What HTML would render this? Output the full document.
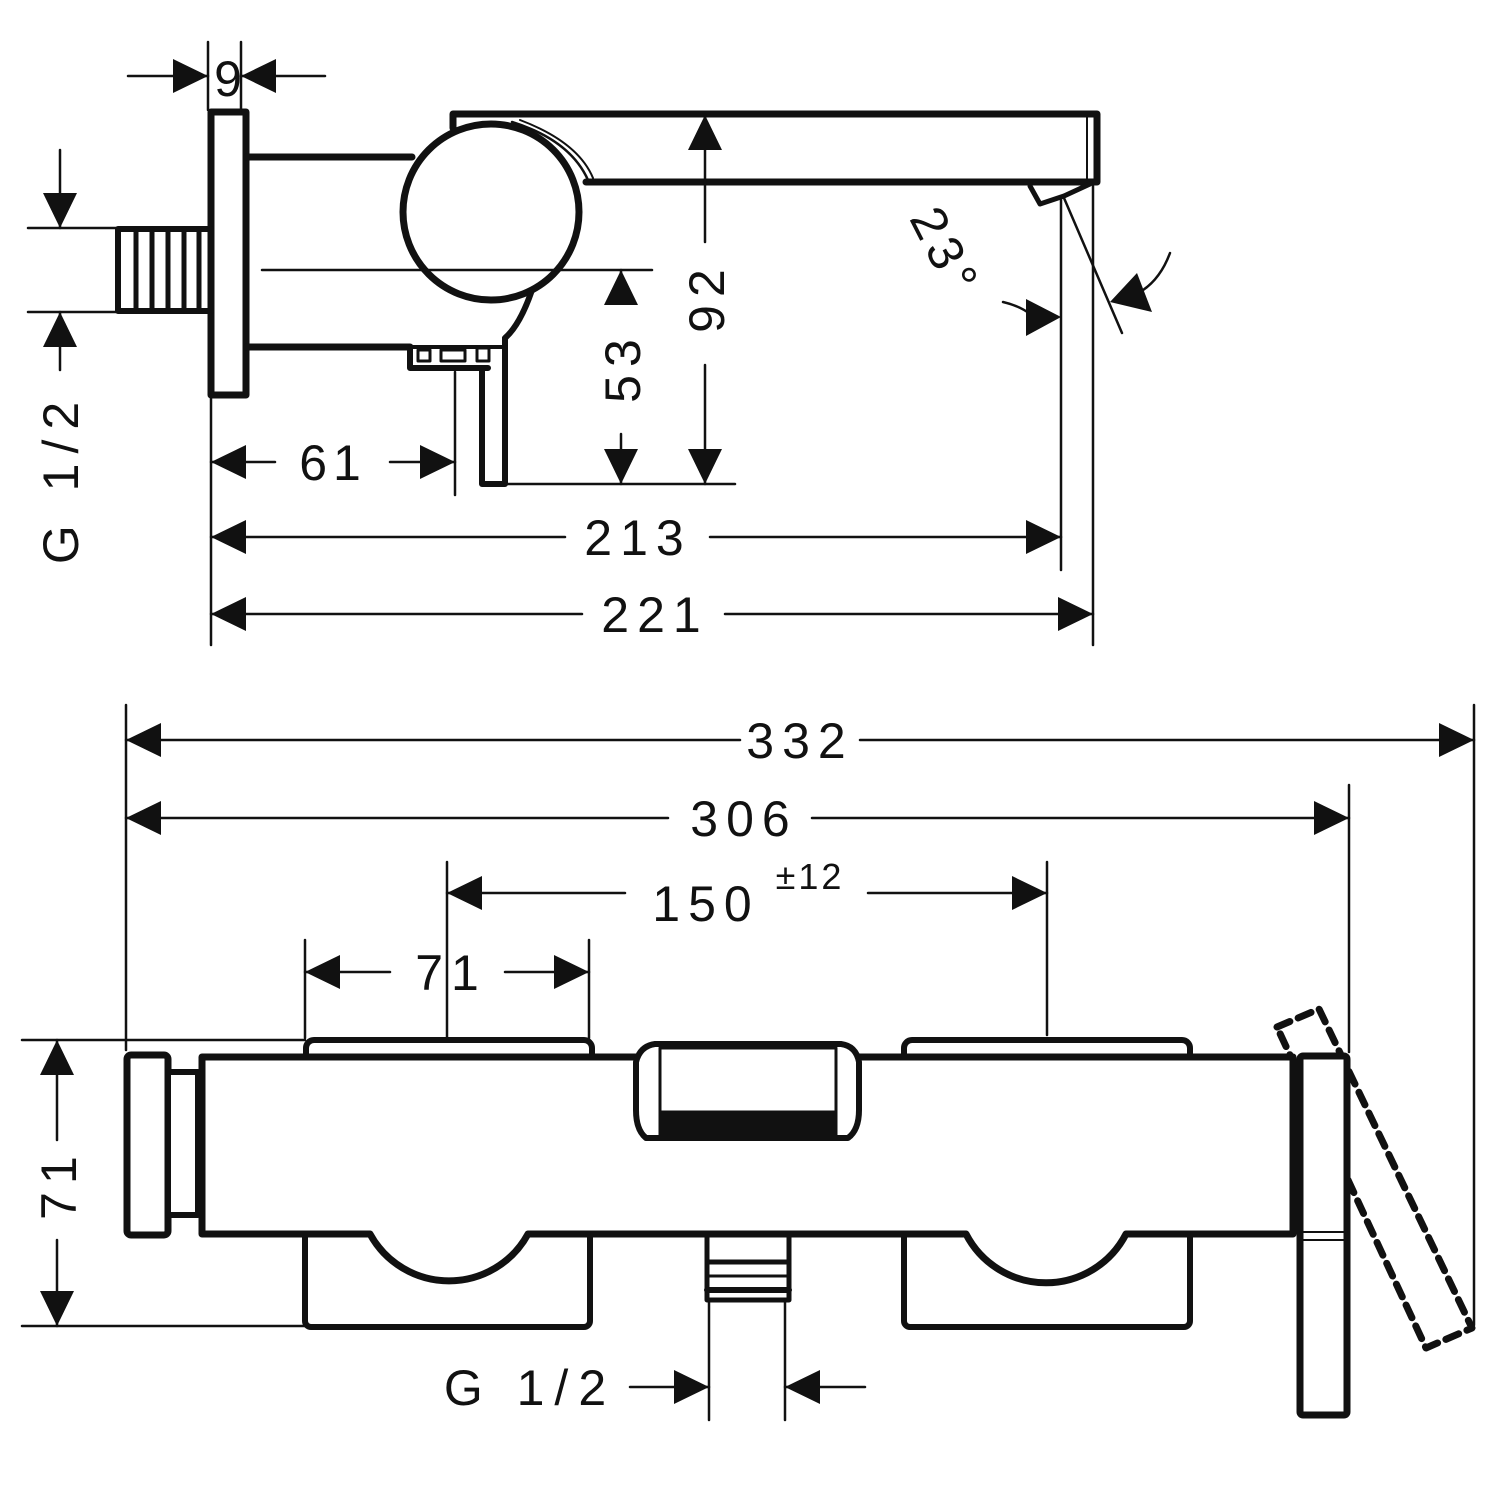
<!DOCTYPE html>
<html><head><meta charset="utf-8"><style>
html,body{margin:0;padding:0;background:#fff}
svg{display:block}
text{font-family:"Liberation Sans",sans-serif;fill:#111}
</style></head><body>
<svg width="1500" height="1500" viewBox="0 0 1500 1500" xmlns="http://www.w3.org/2000/svg">
<g fill="none" stroke="#111" stroke-linejoin="round" stroke-linecap="round">
<!-- ===== TOP VIEW ===== -->
<rect x="211" y="112" width="35" height="283" stroke-width="7" fill="#fff"/>
<rect x="118" y="229" width="93" height="82" stroke-width="6"/>
<g stroke-width="5"><line x1="136" y1="229" x2="136" y2="311"/><line x1="152" y1="229" x2="152" y2="311"/><line x1="168" y1="229" x2="168" y2="311"/><line x1="184" y1="229" x2="184" y2="311"/><line x1="199" y1="229" x2="199" y2="311"/></g>
<line x1="247" y1="157" x2="412" y2="157" stroke-width="7"/>
<line x1="247" y1="347" x2="410" y2="347" stroke-width="7"/>
<path d="M453,128 L453,114 L1097,114 L1097,182 L586,182" stroke-width="7"/>
<line x1="1087" y1="116" x2="1087" y2="180" stroke-width="2"/>
<path d="M512,122 Q570,140 588,180" stroke-width="2.5"/>
<path d="M520,120 Q578,142 593,178" stroke-width="2"/>
<path d="M1030,186 L1040,204 L1064,196 L1090,184" stroke-width="5"/>
<circle cx="491" cy="212" r="88" stroke-width="7" fill="#fff"/>
<path d="M532,290 Q520,325 505,338 L505,484 L482,484 L482,368" stroke-width="6"/>
<path d="M410,347 L410,368 L488,368" stroke-width="6"/>
<path d="M410,347 L505,347" stroke-width="4"/>
<rect x="418" y="350" width="12" height="11" stroke-width="3"/>
<rect x="441" y="350" width="24" height="11" stroke-width="3"/>
<rect x="477" y="348" width="12" height="13" stroke-width="3"/>
<g stroke-width="2.5">
<line x1="262" y1="270" x2="652" y2="270"/>
<line x1="505" y1="484" x2="735" y2="484"/>
<line x1="455" y1="372" x2="455" y2="495"/>
<line x1="211" y1="398" x2="211" y2="645"/>
<line x1="1061" y1="200" x2="1061" y2="570"/>
<line x1="1093" y1="186" x2="1093" y2="645"/>
<line x1="1064" y1="198" x2="1122" y2="333"/>
<line x1="208" y1="42" x2="208" y2="110"/>
<line x1="241" y1="42" x2="241" y2="110"/>
<line x1="28" y1="228" x2="116" y2="228"/>
<line x1="28" y1="312" x2="116" y2="312"/>
<line x1="128" y1="76" x2="208" y2="76"/><line x1="241" y1="76" x2="325" y2="76"/>
<line x1="60" y1="150" x2="60" y2="228"/><line x1="60" y1="312" x2="60" y2="370"/>
<line x1="621" y1="270" x2="621" y2="300"/><line x1="621" y1="434" x2="621" y2="484"/>
<line x1="705" y1="115" x2="705" y2="242"/><line x1="705" y1="365" x2="705" y2="484"/>
<line x1="211" y1="462" x2="275" y2="462"/><line x1="390" y1="462" x2="455" y2="462"/>
<line x1="211" y1="537" x2="565" y2="537"/><line x1="710" y1="537" x2="1061" y2="537"/>
<line x1="211" y1="614" x2="582" y2="614"/><line x1="725" y1="614" x2="1093" y2="614"/>
<path d="M1003,302 Q1020,306 1030,314"/>
<path d="M1170,253 Q1160,280 1140,292"/>
</g>
</g>
<g fill="#111">
<polygon points="208,76 173,59 173,93"/><polygon points="241,76 276,59 276,93"/>
<polygon points="60,228 43,193 77,193"/><polygon points="60,312 43,347 77,347"/>
<polygon points="621,270 604,305 638,305"/><polygon points="621,484 604,449 638,449"/>
<polygon points="705,115 688,150 722,150"/><polygon points="705,484 688,449 722,449"/>
<polygon points="211,462 246,445 246,479"/><polygon points="455,462 420,445 420,479"/>
<polygon points="211,537 246,520 246,554"/><polygon points="1061,537 1026,520 1026,554"/>
<polygon points="211,614 246,597 246,631"/><polygon points="1093,614 1058,597 1058,631"/>
<polygon points="1061,317 1026,299 1026,336"/>
<polygon points="1110,302 1137,273 1152,312"/>
</g>
<g font-size="50">
<text x="228" y="96" text-anchor="middle">9</text>
<text x="333" y="480" text-anchor="middle" letter-spacing="6">61</text>
<text x="638" y="555" text-anchor="middle" letter-spacing="8">213</text>
<text x="655" y="632" text-anchor="middle" letter-spacing="8">221</text>
<text transform="translate(640,367) rotate(-90)" text-anchor="middle" letter-spacing="8">53</text>
<text transform="translate(724,297) rotate(-90)" text-anchor="middle" letter-spacing="8">92</text>
<text transform="translate(78,478) rotate(-90)" text-anchor="middle" letter-spacing="10">G 1/2</text>
<text transform="translate(930,260) rotate(63)" text-anchor="middle" letter-spacing="6">23°</text>
</g>

<!-- ===== BOTTOM VIEW ===== -->
<g fill="none" stroke="#111" stroke-linejoin="round" stroke-linecap="round">
<polygon points="1277,1027 1319,1009 1472,1328 1426,1348" stroke-width="7" stroke-dasharray="14,9"/>
<rect x="306" y="1040" width="286" height="24" rx="8" stroke-width="6" fill="#fff"/>
<rect x="904" y="1040" width="286" height="24" rx="8" stroke-width="6" fill="#fff"/>
<rect x="305" y="1215" width="285" height="112" rx="6" stroke-width="6" fill="#fff"/>
<rect x="904" y="1215" width="286" height="112" rx="6" stroke-width="6" fill="#fff"/>
<rect x="707" y="1225" width="82" height="75" stroke-width="5" fill="#fff"/>
<line x1="707" y1="1262" x2="789" y2="1262" stroke-width="5"/>
<line x1="707" y1="1276" x2="789" y2="1276" stroke-width="3"/>
<line x1="707" y1="1290" x2="789" y2="1290" stroke-width="6"/>
<path d="M202,1057 L1293,1057 L1293,1234 L1126,1234 A90,90 0 0 1 966,1234 L528,1234 A90,90 0 0 1 370,1234 L202,1234 Z" stroke-width="7" fill="#fff"/>
<rect x="127" y="1055" width="41" height="180" rx="4" stroke-width="7" fill="#fff"/>
<rect x="168" y="1072" width="30" height="143" stroke-width="6" fill="#fff"/>
<path d="M646,1138 Q636,1130 636,1110 L636,1062 Q640,1046 655,1044 L841,1044 Q856,1046 859,1062 L859,1110 Q859,1130 848,1138 Z" stroke-width="6" fill="#fff"/>
<rect x="660" y="1048" width="176" height="90" stroke-width="3"/>
<rect x="660" y="1112" width="176" height="24" fill="#111" stroke-width="3"/>
<rect x="1300" y="1056" width="47" height="359" rx="3" stroke-width="7" fill="#fff"/>
<line x1="1300" y1="1232" x2="1347" y2="1232" stroke-width="2"/>
<line x1="1300" y1="1240" x2="1347" y2="1240" stroke-width="2"/>
<line x1="1294" y1="1057" x2="1294" y2="1234" stroke-width="3"/>
<g stroke-width="2.5">
<line x1="126" y1="705" x2="126" y2="1050"/>
<line x1="1474" y1="705" x2="1474" y2="1325"/>
<line x1="1349" y1="785" x2="1349" y2="1052"/>
<line x1="447" y1="862" x2="447" y2="1038"/>
<line x1="1047" y1="862" x2="1047" y2="1035"/>
<line x1="305" y1="940" x2="305" y2="1038"/>
<line x1="589" y1="940" x2="589" y2="1038"/>
<line x1="22" y1="1040" x2="305" y2="1040"/>
<line x1="22" y1="1326" x2="305" y2="1326"/>
<line x1="709" y1="1300" x2="709" y2="1420"/>
<line x1="785" y1="1300" x2="785" y2="1420"/>
<line x1="126" y1="740" x2="740" y2="740"/><line x1="860" y1="740" x2="1474" y2="740"/>
<line x1="126" y1="818" x2="668" y2="818"/><line x1="812" y1="818" x2="1349" y2="818"/>
<line x1="447" y1="893" x2="625" y2="893"/><line x1="868" y1="893" x2="1047" y2="893"/>
<line x1="305" y1="972" x2="390" y2="972"/><line x1="505" y1="972" x2="589" y2="972"/>
<line x1="57" y1="1040" x2="57" y2="1140"/><line x1="57" y1="1240" x2="57" y2="1326"/>
<line x1="630" y1="1387" x2="709" y2="1387"/><line x1="785" y1="1387" x2="865" y2="1387"/>
</g>
</g>
<g fill="#111">
<polygon points="126,740 161,723 161,757"/><polygon points="1474,740 1439,723 1439,757"/>
<polygon points="126,818 161,801 161,835"/><polygon points="1349,818 1314,801 1314,835"/>
<polygon points="447,893 482,876 482,910"/><polygon points="1047,893 1012,876 1012,910"/>
<polygon points="305,972 340,955 340,989"/><polygon points="589,972 554,955 554,989"/>
<polygon points="57,1040 40,1075 74,1075"/><polygon points="57,1326 40,1291 74,1291"/>
<polygon points="709,1387 674,1370 674,1404"/><polygon points="785,1387 820,1370 820,1404"/>
</g>
<g font-size="50">
<text x="800" y="758" text-anchor="middle" letter-spacing="8">332</text>
<text x="744" y="836" text-anchor="middle" letter-spacing="8">306</text>
<text x="706" y="921" text-anchor="middle" letter-spacing="8">150</text>
<text x="810" y="889" font-size="36" text-anchor="middle" letter-spacing="3">±12</text>
<text x="451" y="990" text-anchor="middle" letter-spacing="8">71</text>
<text transform="translate(76,1184) rotate(-90)" text-anchor="middle" letter-spacing="8">71</text>
<text x="530" y="1405" text-anchor="middle" letter-spacing="10">G 1/2</text>
</g>
</svg>
</body></html>
